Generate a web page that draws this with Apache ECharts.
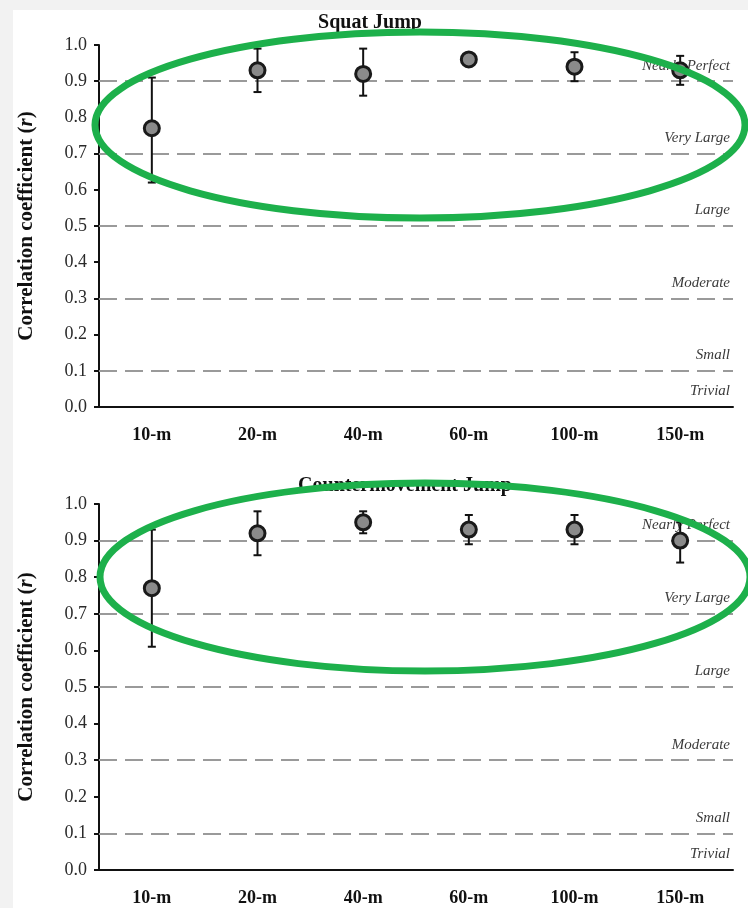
<!DOCTYPE html>
<html>
<head>
<meta charset="utf-8">
<script src="https://cdn.jsdelivr.net/npm/echarts@6/dist/echarts.min.js"></script>
<style>
  body { margin: 0; background: #f2f2f2; }
  #chart { position: absolute; left: 13px; top: 10px; width: 735px; height: 898px; background: #fff; }
</style>
</head>
<body>
<div id="chart"></div>
<script>
const categories = ["10-m", "20-m", "40-m", "60-m", "100-m", "150-m"];

// Squat Jump: r and 90% CI
const sjR = [0.77, 0.93, 0.92, 0.96, 0.94, 0.93];
const sjLow = [0.62, 0.87, 0.86, 0.95, 0.90, 0.89];
const sjHigh = [0.91, 0.99, 0.99, 0.97, 0.98, 0.97];

// Countermovement Jump
const cmjR = [0.77, 0.92, 0.95, 0.93, 0.93, 0.90];
const cmjLow = [0.61, 0.86, 0.92, 0.89, 0.89, 0.84];
const cmjHigh = [0.93, 0.98, 0.98, 0.97, 0.97, 0.95];

// magnitude thresholds (Hopkins scale)
const thresholds = [0.0, 0.1, 0.3, 0.5, 0.7, 0.9];
const thresholdNames = ["Trivial", "Small", "Moderate", "Large", "Very Large", "Nearly Perfect"];

const serif = "'Liberation Serif', 'DejaVu Serif', serif";
const chart = echarts.init(document.getElementById("chart"));

function errorBars(low, high, idx) {
  return {
    type: "custom",
    xAxisIndex: idx,
    yAxisIndex: idx,
    z: 3,
    data: categories.map((c, i) => [i, low[i], high[i]]),
    renderItem(params, api) {
      const top = api.coord([api.value(0), api.value(2)]);
      const bot = api.coord([api.value(0), api.value(1)]);
      const w = 4;
      const style = { stroke: "#111", lineWidth: 2 };
      return {
        type: "group",
        children: [
          { type: "line", shape: { x1: top[0], y1: top[1], x2: bot[0], y2: bot[1] }, style },
          { type: "line", shape: { x1: top[0] - w, y1: top[1], x2: top[0] + w, y2: top[1] }, style },
          { type: "line", shape: { x1: bot[0] - w, y1: bot[1], x2: bot[0] + w, y2: bot[1] }, style },
        ],
      };
    },
  };
}

function points(vals, idx) {
  return {
    type: "scatter",
    xAxisIndex: idx,
    yAxisIndex: idx,
    z: 4,
    data: vals,
    symbolSize: 15,
    itemStyle: { color: "#8a8a8a", borderColor: "#1a1a1a", borderWidth: 3, opacity: 1 },
    markLine: {
      silent: true,
      symbol: "none",
      z: 1,
      data: thresholds.map((t, i) => ({
        yAxis: t,
        lineStyle: { color: t === 0 ? "rgba(0,0,0,0)" : "#9a9a9a", width: 2, type: [18, 8] },
        label: {
          show: true,
          formatter: thresholdNames[i],
          position: "insideEndTop",
          distance: [3, 8],
          fontFamily: serif,
          fontStyle: "italic",
          fontSize: 15,
          color: "#3a3a3a",
        },
      })),
    },
  };
}

function xAxis(idx) {
  return {
    type: "category",
    gridIndex: idx,
    data: categories,
    axisLine: { lineStyle: { color: "#111", width: 2 } },
    axisTick: { length: 6, lineStyle: { color: "#111", width: 2 } },
    axisLabel: { fontFamily: serif, fontWeight: "bold", fontSize: 18, color: "#111", margin: 19 },
  };
}

function yAxis(idx) {
  return {
    type: "value",
    gridIndex: idx,
    min: 0,
    max: 1,
    interval: 0.1,
    splitLine: { show: false },
    axisLine: { show: true, lineStyle: { color: "#111", width: 2 } },
    axisTick: { show: true, length: 5, lineStyle: { color: "#111", width: 2 } },
    axisLabel: { fontFamily: serif, fontSize: 18, color: "#2a2a2a", margin: 12, formatter: (v) => v.toFixed(1) },
    name: "{b|Correlation coefficient (}{i|r}{b|)}",
    nameLocation: "middle",
    nameRotate: 90,
    nameGap: 62,
    nameTextStyle: {
      rich: {
        b: { fontFamily: serif, fontWeight: "bold", fontSize: 21, color: "#111" },
        i: { fontFamily: serif, fontWeight: "bold", fontStyle: "italic", fontSize: 21, color: "#111" },
      },
    },
  };
}

chart.setOption({
  animation: false,
  title: [
    { text: "Squat Jump", left: 352, top: -2, textAlign: "center",
      textStyle: { fontFamily: serif, fontWeight: "bold", fontSize: 20, color: "#111" } },
    { text: "Countermovement Jump", left: 387, top: 461, textAlign: "center",
      textStyle: { fontFamily: serif, fontWeight: "bold", fontSize: 20, color: "#111" } },
  ],
  grid: [
    { left: 86, right: 15, top: 35, height: 362, outerBoundsMode: "none" },
    { left: 86, right: 15, top: 494, height: 366, outerBoundsMode: "none" },
  ],
  xAxis: [xAxis(0), xAxis(1)],
  yAxis: [yAxis(0), yAxis(1)],
  series: [
    errorBars(sjLow, sjHigh, 0),
    points(sjR, 0),
    errorBars(cmjLow, cmjHigh, 1),
    points(cmjR, 1),
  ],
  graphic: [
    { type: "ellipse", z: 100, shape: { cx: 407, cy: 115, rx: 325, ry: 93 },
      style: { fill: "none", stroke: "#1db04b", lineWidth: 7 } },
    { type: "ellipse", z: 100, shape: { cx: 412, cy: 567, rx: 325, ry: 94 },
      style: { fill: "none", stroke: "#1db04b", lineWidth: 7 } },
  ],
});

window.addEventListener("resize", () => chart.resize());
</script>
</body>
</html>
